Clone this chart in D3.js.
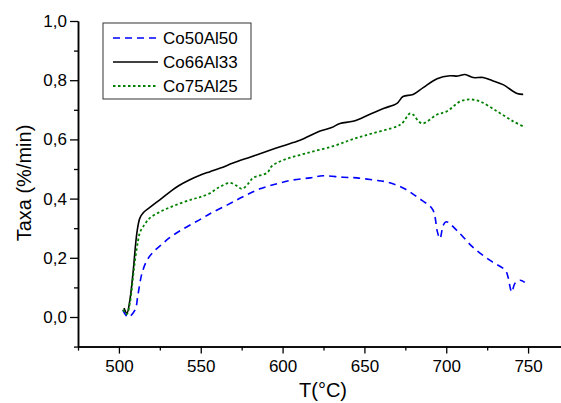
<!DOCTYPE html>
<html><head><meta charset="utf-8">
<script src="https://cdn.jsdelivr.net/npm/d3@7/dist/d3.min.js"></script>
<style>body{margin:0;background:#fff}svg{display:block}text{font-family:"Liberation Sans",Arial,sans-serif}</style>
</head><body><svg id="c" width="561" height="403"></svg>
<script>
const seriesNames = ["Co50Al50", "Co66Al33", "Co75Al25"];
const tBlue = [502.4,505.5,509.8,511.6,514.1,517.1,521,526.3,531,538.5,550.7,555.6,566,575.8,586.2,596.6,606.4,616.8,624.7,637,645.5,655.3,663.8,673.6,682.8,691.4,693.2,694.4,696.2,698.1,699.9,706.6,716.4,726.8,736,737.8,739,740,742,745,748];
const rBlue = [0.023,0.0,0.023,0.074,0.148,0.191,0.22,0.246,0.268,0.295,0.333,0.349,0.378,0.406,0.433,0.450,0.463,0.470,0.477,0.472,0.470,0.463,0.456,0.436,0.403,0.366,0.336,0.292,0.265,0.309,0.322,0.292,0.235,0.191,0.158,0.134,0.101,0.084,0.114,0.124,0.117];
const tBlack = [503.1,504.9,506.7,508.6,511.0,512.8,515,518.9,525,531,537,543,549.5,555.6,562,569.7,580,590.5,600,610.6,622.9,630,635.1,643,653.4,662,669.9,673.6,679.7,685.9,694.4,702.3,707,711.5,716.4,722.5,728,734.7,743.3,747];
const rBlack = [0.030,0.013,0.057,0.148,0.285,0.334,0.353,0.370,0.396,0.422,0.445,0.463,0.479,0.491,0.503,0.520,0.540,0.560,0.578,0.597,0.628,0.640,0.654,0.661,0.685,0.705,0.722,0.745,0.752,0.775,0.805,0.815,0.814,0.819,0.809,0.809,0.799,0.785,0.755,0.752];
const tGreen = [502.5,504.8,506.7,508.6,509.8,511.6,513,516,519,525,531,538,545,549.5,555.6,561.7,567.8,572.1,575.2,578.9,582,590.5,593.5,600.3,614.9,630.8,643,655.3,669.9,673,677.9,679.7,685.2,694.4,700.5,708.4,714.6,720.7,731,740.9,748.2];
const rGreen = [0.025,0.01,0.047,0.134,0.190,0.255,0.288,0.315,0.335,0.355,0.370,0.385,0.398,0.405,0.418,0.440,0.453,0.443,0.433,0.450,0.470,0.487,0.510,0.530,0.554,0.577,0.601,0.621,0.644,0.654,0.688,0.684,0.654,0.684,0.695,0.728,0.735,0.728,0.695,0.661,0.641];
const xMajor = [500,550,600,650,700,750];
const xMinor = [475,525,575,625,675,725,775];
const yMajor = [0,0.2,0.4,0.6,0.8,1.0];
const yMinor = [-0.1,0.1,0.3,0.5,0.7,0.9];

const svg = d3.select("#c");
const x = d3.scaleLinear().domain([475,775]).range([78,569]);
const y = d3.scaleLinear().domain([-0.1,1.0]).range([346.6,21]);
const fmt = d => d3.format(".1f")(d).replace(".", ",");

// X axis
const xa = svg.append("g").attr("transform","translate(0,346.6)");
xa.call(d3.axisBottom(x).tickValues(xMajor).tickSize(7).tickSizeOuter(0).tickFormat(d3.format("d")));
xa.append("g").call(d3.axisBottom(x).tickValues(xMinor).tickSize(4).tickSizeOuter(0).tickFormat(""));
xa.selectAll("path.domain").attr("stroke","#000").attr("stroke-width",1.5);
xa.selectAll(".tick line").attr("stroke","#000").attr("stroke-width",1.3);
xa.selectAll(".tick text").attr("font-size",17).attr("fill","#000").attr("dy","0.9em").attr("font-family","Liberation Sans, Arial, sans-serif");

// Y axis
const ya = svg.append("g").attr("transform","translate(78,0)");
ya.call(d3.axisLeft(y).tickValues(yMajor).tickSize(8).tickSizeOuter(0).tickFormat(fmt));
ya.append("g").call(d3.axisLeft(y).tickValues(yMinor).tickSize(4).tickSizeOuter(0).tickFormat(""));
ya.selectAll("path.domain").attr("stroke","#000").attr("stroke-width",1.5);
ya.selectAll(".tick line").attr("stroke","#000").attr("stroke-width",1.3);
ya.selectAll(".tick text").attr("font-size",17).attr("fill","#000").attr("x",-11).attr("font-family","Liberation Sans, Arial, sans-serif");

// Axis titles
svg.append("text").attr("x",323).attr("y",397).attr("text-anchor","middle").attr("font-size",20).text("T(°C)");
svg.append("text").attr("transform","translate(31,183) rotate(-90)").attr("text-anchor","middle").attr("font-size",20).text("Taxa (%/min)");

// Lines
const line = d3.line().x(d=>x(d[0])).y(d=>y(d[1])).curve(d3.curveCatmullRom.alpha(0.5));
const series = [
  {t:tBlue, r:rBlue, color:"#0000ff", dash:"7,5", w:1.6},
  {t:tBlack, r:rBlack, color:"#000000", dash:null, w:1.6},
  {t:tGreen, r:rGreen, color:"#008000", dash:"2.5,2.5", w:1.8}
];
series.forEach(s=>{
  svg.append("path").datum(d3.zip(s.t,s.r)).attr("d",line)
    .attr("fill","none").attr("stroke",s.color).attr("stroke-width",s.w)
    .attr("stroke-dasharray",s.dash).attr("stroke-linejoin","round");
});

// Legend
const lg = svg.append("g");
lg.append("rect").attr("x",103).attr("y",23).attr("width",148).attr("height",76)
  .attr("fill","#fff").attr("stroke","#333").attr("stroke-width",1);
series.forEach((s,i)=>{
  const yy = 38 + i*24;
  lg.append("line").attr("x1",113).attr("x2",158).attr("y1",yy).attr("y2",yy)
    .attr("stroke",s.color).attr("stroke-width",s.w).attr("stroke-dasharray",s.dash);
  lg.append("text").attr("x",163).attr("y",yy).attr("dy","0.36em").attr("font-size",17).text(seriesNames[i]);
});
</script></body></html>
